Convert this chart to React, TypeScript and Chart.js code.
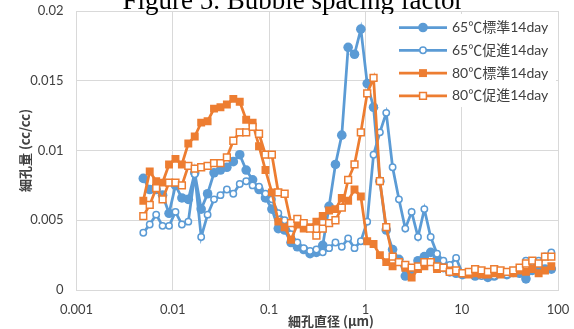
import React, { useEffect, useRef } from 'react';
import { Chart, registerables } from 'chart.js';
Chart.register(...registerables);

// pore diameter (µm)
const poreDiameter = [
  0.00494, 0.00576, 0.00672, 0.00783, 0.00914, 0.01066, 0.01243, 0.01449, 0.0169, 0.01971,
  0.02298, 0.0268, 0.03125, 0.03644, 0.0425, 0.04956, 0.05781, 0.06741, 0.07861, 0.09169,
  0.1069, 0.1246, 0.145, 0.1688, 0.1965, 0.2287, 0.2662, 0.3098, 0.3606, 0.4198,
  0.4886, 0.5687, 0.6619, 0.7706, 0.8969, 1.044, 1.215, 1.414, 1.646, 1.916,
  2.23, 2.596, 3.021, 3.517, 4.094, 4.764, 5.546, 6.455, 7.514, 8.746,
  10.18, 11.85, 13.79, 16.06, 18.69, 21.75, 25.32, 29.47, 34.3, 39.93,
  46.47, 54.09, 62.95, 73.28, 85.29,
];

const s65std = [
  0.0080, 0.0072, 0.0072, 0.0068, 0.0055, 0.0075, 0.0066, 0.0065, 0.0084, 0.0058,
  0.0069, 0.0084, 0.0086, 0.0088, 0.0092, 0.0097, 0.0086, 0.0079, 0.0072, 0.0066,
  0.0058, 0.0044, 0.0043, 0.0034, 0.0031, 0.0029, 0.0026, 0.0027, 0.0032, 0.0060,
  0.0090, 0.0111, 0.0174, 0.0169, 0.0187, 0.0148, 0.0131, 0.0078, 0.0043, 0.0029,
  0.0022, 0.0010, 0.0014, 0.0021, 0.0024, 0.0027, 0.0022, 0.0016, 0.0013, 0.0012,
  0.0011, 0.0012, 0.0010, 0.0011, 0.0009, 0.0010, 0.0012, 0.0011, 0.0013, 0.0012,
  0.0008, 0.0014, 0.0016, 0.0015, 0.0015,
];

const s65acc = [
  0.0041, 0.0047, 0.0054, 0.0046, 0.0046, 0.0056, 0.0047, 0.0049, 0.0083, 0.0038,
  0.0054, 0.0065, 0.0068, 0.0072, 0.0069, 0.0076, 0.0078, 0.0075, 0.0074, 0.0069,
  0.0065, 0.0055, 0.0050, 0.0040, 0.0034, 0.0030, 0.0028, 0.0029, 0.0027, 0.0030,
  0.0034, 0.0031, 0.0037, 0.0030, 0.0035, 0.0049, 0.0097, 0.0113, 0.0127, 0.0088,
  0.0065, 0.0044, 0.0056, 0.0038, 0.0058, 0.0038, 0.0026, 0.0021, 0.0018, 0.0023,
  0.0012, 0.0012, 0.0011, 0.0010, 0.0011, 0.0010, 0.0012, 0.0011, 0.0012, 0.0014,
  0.0021, 0.0020, 0.0021, 0.0024, 0.0027,
];

const s80std = [
  0.0064, 0.0085, 0.0078, 0.0077, 0.0090, 0.0094, 0.0090, 0.0105, 0.0110, 0.0120,
  0.0121, 0.0130, 0.0131, 0.0133, 0.0137, 0.0135, 0.0122, 0.0120, 0.0103, 0.0086,
  0.0070, 0.0049, 0.0045, 0.0036, 0.0047, 0.0044, 0.0045, 0.0049, 0.0053, 0.0057,
  0.0058, 0.0066, 0.0064, 0.0072, 0.0067, 0.0035, 0.0033, 0.0025, 0.0020, 0.0017,
  0.0020, 0.0016, 0.0009, 0.0015, 0.0017, 0.0020, 0.0015, 0.0016, 0.0014, 0.0013,
  0.0012, 0.0011, 0.0012, 0.0011, 0.0011, 0.0012, 0.0011, 0.0013, 0.0012, 0.0014,
  0.0013, 0.0015, 0.0012, 0.0014, 0.0017,
];

const s80acc = [
  0.0053, 0.0061, 0.0073, 0.0065, 0.0077, 0.0077, 0.0075, 0.0089, 0.0087, 0.0088,
  0.0089, 0.0091, 0.0091, 0.0095, 0.0107, 0.0113, 0.0113, 0.0117, 0.0112, 0.0097,
  0.0097, 0.0070, 0.0069, 0.0048, 0.0051, 0.0048, 0.0044, 0.0039, 0.0044, 0.0048,
  0.0050, 0.0059, 0.0079, 0.0090, 0.0113, 0.0141, 0.0152, 0.0078, 0.0045, 0.0024,
  0.0020, 0.0018, 0.0016, 0.0017, 0.0020, 0.0020, 0.0017, 0.0016, 0.0013, 0.0014,
  0.0012, 0.0013, 0.0015, 0.0014, 0.0013, 0.0015, 0.0014, 0.0013, 0.0014, 0.0016,
  0.0019, 0.0021, 0.0019, 0.0024, 0.0024,
];

const seriesNames = ['65℃標準14day', '65℃促進14day', '80℃標準14day', '80℃促進14day'];
const xTickValues = [0.001, 0.01, 0.1, 1, 10, 100];
const xTickLabels = ['0.001', '0.01', '0.1', '1', '10', '100'];
const yTickValues = [0, 0.005, 0.01, 0.015, 0.02];
const yTickLabels = ['0', '0.005', '0.01', '0.015', '0.02'];
const chartTitle = 'Figure 5. Bubble spacing factor';
const xTitle = '細孔直径 (μm)';
const yTitle = '細孔量 (cc/cc)';

const BLUE = '#5B9BD5';
const ORANGE = '#ED7D31';
const TEXT = '#404040';
const GRID = '#D9D9D9';
const LABEL_FONT = "Lato, 'Noto Sans CJK JP', sans-serif";
const CJK_FONT = "'Noto Sans CJK JP', Lato, sans-serif";

const toXY = (ys: number[]) => ys.map((y, i) => ({ x: poreDiameter[i], y }));

const decorPlugin = {
  id: 'decor',
  afterDatasetsDraw(chart: any) {
    const { ctx, chartArea } = chart;
    ctx.save();
    // figure title (clipped at the top of the page)
    ctx.fillStyle = '#000';
    ctx.font = "27px 'Liberation Serif', serif";
    ctx.textAlign = 'center';
    ctx.textBaseline = 'alphabetic';
    ctx.fillText(chartTitle, 293, 9);

    // x axis title
    ctx.fillStyle = TEXT;
    ctx.font = `bold 13px ${CJK_FONT}`;
    ctx.textBaseline = 'middle';
    ctx.fillText(xTitle, 331, 321);

    // legend inside the plot area
    const bx = chartArea.right - 180;
    const by = chartArea.top + 3;
    ctx.fillStyle = '#fff';
    ctx.fillRect(bx, by, 178, 93);
    chart.data.datasets.forEach((ds: any, i: number) => {
      const y = chartArea.top + 16.5 + i * 22.8;
      const x0 = bx + 21;
      const x1 = x0 + 48;
      ctx.strokeStyle = ds.borderColor;
      ctx.lineWidth = ds.borderWidth;
      ctx.beginPath();
      ctx.moveTo(x0, y);
      ctx.lineTo(x1, y);
      ctx.stroke();
      const cx = (x0 + x1) / 2;
      ctx.fillStyle = ds.pointBackgroundColor;
      ctx.strokeStyle = ds.pointBorderColor;
      ctx.lineWidth = ds.pointBorderWidth;
      ctx.beginPath();
      if (ds.pointStyle === 'circle') {
        ctx.arc(cx, y, ds.pointRadius, 0, Math.PI * 2);
      } else {
        const h = ds.pointRadius * Math.SQRT1_2;
        ctx.rect(cx - h, y - h, 2 * h, 2 * h);
      }
      ctx.fill();
      if (ds.pointBorderWidth > 0) ctx.stroke();
      ctx.fillStyle = TEXT;
      ctx.font = `14px ${LABEL_FONT}`;
      ctx.textAlign = 'left';
      ctx.textBaseline = 'middle';
      ctx.fillText(ds.label, x1 + 5, y);
    });
    ctx.restore();
  },
};

export default function App() {
  const ref = useRef<HTMLCanvasElement | null>(null);

  useEffect(() => {
    if (!ref.current) return;
    const common = { borderWidth: 2.75, tension: 0, fill: false };
    const chart = new Chart(ref.current, {
      type: 'line',
      data: {
        datasets: [
          {
            ...common,
            label: seriesNames[0],
            data: toXY(s65std),
            borderColor: BLUE,
            backgroundColor: BLUE,
            pointStyle: 'circle',
            pointRadius: 4.8,
            pointBackgroundColor: BLUE,
            pointBorderColor: BLUE,
            pointBorderWidth: 0,
            order: 4,
          },
          {
            ...common,
            label: seriesNames[1],
            data: toXY(s65acc),
            borderColor: BLUE,
            backgroundColor: '#ffffff',
            pointStyle: 'circle',
            pointRadius: 3.2,
            pointBackgroundColor: '#ffffff',
            pointBorderColor: BLUE,
            pointBorderWidth: 1.5,
            order: 3,
          },
          {
            ...common,
            label: seriesNames[2],
            data: toXY(s80std),
            borderColor: ORANGE,
            backgroundColor: ORANGE,
            pointStyle: 'rect',
            pointRadius: 5.6,
            pointBackgroundColor: ORANGE,
            pointBorderColor: ORANGE,
            pointBorderWidth: 0,
            order: 2,
          },
          {
            ...common,
            label: seriesNames[3],
            data: toXY(s80acc),
            borderColor: ORANGE,
            backgroundColor: '#ffffff',
            pointStyle: 'rect',
            pointRadius: 4.8,
            pointBackgroundColor: '#ffffff',
            pointBorderColor: ORANGE,
            pointBorderWidth: 1.5,
            order: 1,
          },
        ] as any,
      },
      options: {
        responsive: false,
        animation: false,
        devicePixelRatio: 1,
        layout: { padding: { left: 0, right: 16, top: 11, bottom: 0 } },
        plugins: {
          legend: { display: false },
          title: { display: false },
          tooltip: { enabled: false },
        },
        scales: {
          x: {
            type: 'logarithmic',
            min: 0.001,
            max: 100,
            afterBuildTicks: (s: any) => {
              s.ticks = xTickValues.map((v) => ({ value: v }));
            },
            afterFit: (s: any) => {
              s.height = 39;
              s.paddingLeft = 0;
              s.paddingRight = 0;
              s.paddingTop = 0;
              s.paddingBottom = 0;
            },
            ticks: {
              autoSkip: false,
              maxRotation: 0,
              padding: 12,
              color: TEXT,
              font: { family: LABEL_FONT, size: 13 },
              callback: (v: any) => {
                const i = xTickValues.findIndex((t) => Math.abs(t - Number(v)) < t * 1e-6);
                return i >= 0 ? xTickLabels[i] : null;
              },
            },
            grid: { color: GRID, lineWidth: 1, drawTicks: false },
            border: { color: GRID, width: 1 },
          },
          y: {
            type: 'linear',
            min: 0,
            max: 0.02,
            afterBuildTicks: (s: any) => {
              s.ticks = yTickValues.map((v) => ({ value: v }));
            },
            afterFit: (s: any) => {
              s.width = 76.5;
              s.paddingLeft = 0;
              s.paddingRight = 0;
              s.paddingTop = 0;
              s.paddingBottom = 0;
            },
            ticks: {
              padding: 13,
              color: TEXT,
              font: { family: LABEL_FONT, size: 13 },
              callback: (v: any) => {
                const i = yTickValues.findIndex((t) => Math.abs(t - Number(v)) < 1e-9);
                return i >= 0 ? yTickLabels[i] : null;
              },
            },
            grid: { color: GRID, lineWidth: 1, drawTicks: false },
            border: { color: GRID, width: 1 },
            title: {
              display: true,
              text: yTitle,
              color: TEXT,
              font: { family: CJK_FONT, size: 13, weight: 'bold' },
              padding: { top: 17, bottom: 0 },
            },
          },
        },
      },
      plugins: [decorPlugin],
    });
    return () => chart.destroy();
  }, []);

  return (
    <div style={{ position: 'fixed', left: 0, top: 0, width: 574, height: 329, background: '#fff' }}>
      <canvas ref={ref} width={574} height={329} style={{ display: 'block' }} />
    </div>
  );
}
